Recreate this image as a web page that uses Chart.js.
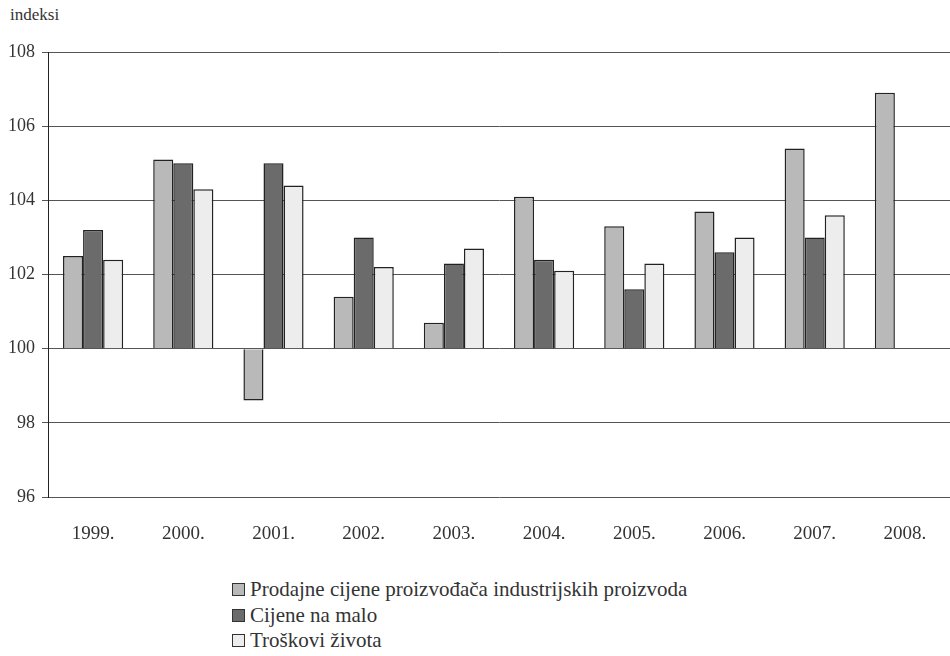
<!DOCTYPE html>
<html>
<head>
    <title>Indeksi cijena</title>
    <script src="https://cdn.jsdelivr.net/npm/chart.js@4.4.1/dist/chart.umd.min.js"></script>
    <style>
        body { margin: 0; background: #fff; font-family: "Liberation Serif", "Times New Roman", "DejaVu Serif", serif; }
        #wrap { position: relative; width: 950px; height: 656px; overflow: hidden; }
        #unit { position: absolute; left: 10px; top: 5px; font-size: 17px; color: #333; }
        #chart-box { position: absolute; left: 0; top: 0; width: 950px; height: 557px; }
        #legend { position: absolute; left: 232px; top: 577px; font-size: 21px; color: #333; line-height: 25.5px; }
        .item { white-space: nowrap; }
        .sw { display: inline-block; width: 11px; height: 11px; border: 1px solid #333; margin-right: 5px; vertical-align: 0px; }
    </style>
</head>
<body>
<div id="wrap">
    <div id="unit">indeksi</div>
    <div id="chart-box"><canvas id="c"></canvas></div>
    <div id="legend"></div>
</div>
<script>
    // data (index, previous year = 100)
    const years = ['1999.', '2000.', '2001.', '2002.', '2003.', '2004.', '2005.', '2006.', '2007.', '2008.'];
    const producerPrices = [102.5, 105.1, 98.6, 101.4, 100.7, 104.1, 103.3, 103.7, 105.4, 106.9];
    const retailPrices = [103.2, 105.0, 105.0, 103.0, 102.3, 102.4, 101.6, 102.6, 103.0, null];
    const costOfLiving = [102.4, 104.3, 104.4, 102.2, 102.7, 102.1, 102.3, 103.0, 103.6, null];
    const yTicks = [96, 98, 100, 102, 104, 106, 108];

    const series = [
        { label: 'Prodajne cijene proizvođača industrijskih proizvoda', data: producerPrices, color: '#b9b9b9' },
        { label: 'Cijene na malo', data: retailPrices, color: '#6b6b6b' },
        { label: 'Troškovi života', data: costOfLiving, color: '#ededed' }
    ];

    const serif = '"Liberation Serif", "Times New Roman", "DejaVu Serif", serif';

    const ctx = document.getElementById('c').getContext('2d');
    const chart = new Chart(ctx, {
        type: 'bar',
        data: {
            labels: years,
            datasets: series.map(s => ({
                label: s.label,
                data: s.data,
                base: 100,
                backgroundColor: s.color,
                borderColor: '#222',
                borderWidth: 1.5,
                categoryPercentage: 0.667,
                barPercentage: 1.0
            }))
        },
        options: {
            responsive: true,
            maintainAspectRatio: false,
            animation: false,
            layout: { padding: { top: 52, right: 0, left: 0, bottom: 0 } },
            plugins: {
                legend: { display: false },
                tooltip: { enabled: false }
            },
            scales: {
                x: {
                    grid: { display: false },
                    border: { display: false },
                    ticks: {
                        color: '#333',
                        padding: 18,
                        maxRotation: 0,
                        font: { family: serif, size: 19 }
                    },
                    afterFit: scale => { scale.height = 60; }
                },
                y: {
                    min: 96,
                    max: 108,
                    afterBuildTicks: scale => { scale.ticks = yTicks.map(v => ({ value: v })); },
                    grid: { color: '#555', lineWidth: 1, tickLength: 6 },
                    border: { display: true, color: '#222', width: 1 },
                    ticks: {
                        color: '#333',
                        padding: 7,
                        font: { family: serif, size: 18 }
                    },
                    afterFit: scale => { scale.width = 48; }
                }
            }
        }
    });

    // legend as a vertical list under the chart
    const legend = document.getElementById('legend');
    series.forEach(s => {
        const row = document.createElement('div');
        row.className = 'item';
        row.innerHTML = '<span class="sw" style="background:' + s.color + '"></span>' + s.label;
        legend.appendChild(row);
    });
</script>
</body>
</html>
